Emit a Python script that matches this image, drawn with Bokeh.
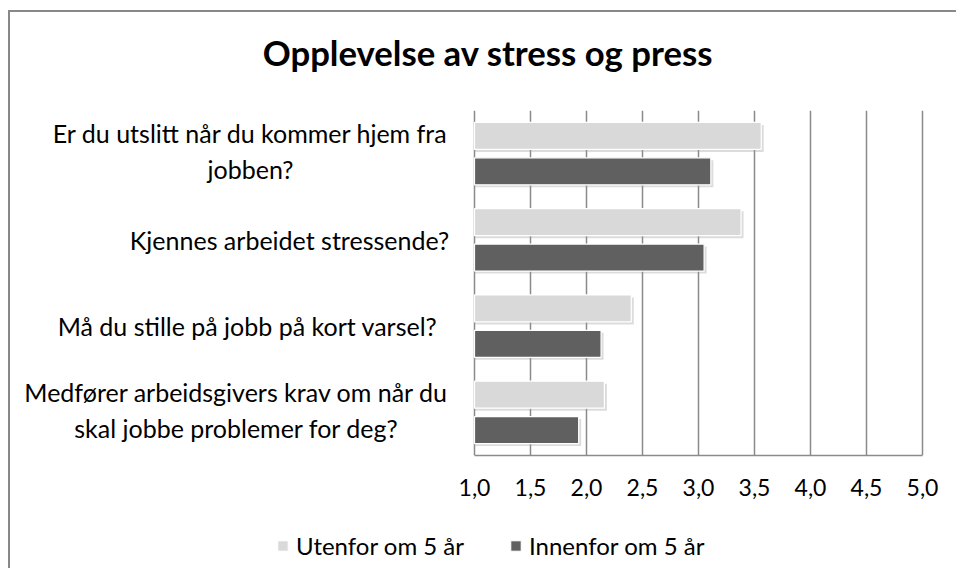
from bokeh.plotting import figure
from bokeh.layouts import column
from bokeh.models import (Range1d, Label, Legend, LegendItem, FixedTicker,
                          ColumnDataSource)
from bokeh.transform import dodge
from bokeh.embed import file_html
from bokeh.resources import INLINE

# ---------------- data ----------------
chart_title = "Opplevelse av stress og press"
categories = [
    "Er du utslitt når du kommer hjem fra\njobben?",
    "Kjennes arbeidet stressende?",
    "Må du stille på jobb på kort varsel?",
    "Medfører arbeidsgivers krav om når du\nskal jobbe problemer for deg?",
]
series_names = ["Utenfor om 5 år", "Innenfor om 5 år"]
utenfor = [3.56, 3.38, 2.40, 2.16]
innenfor = [3.11, 3.05, 2.13, 1.93]
x_ticks = [1.0, 1.5, 2.0, 2.5, 3.0, 3.5, 4.0, 4.5, 5.0]
x_tick_labels = ["1,0", "1,5", "2,0", "2,5", "3,0", "3,5", "4,0", "4,5", "5,0"]

# ---------------- style / layout ----------------
FONT = "Lato"
LIGHT = "#d9d9d9"
DARK = "#606060"
GRID = "#8a8a8a"

OX, OY = 10, 12                 # page position of the canvases
W = 940
PLOT_L, PLOT_R = 474, 922       # page x of value 1.0 and 5.0
FRAME_L, FRAME_R = 22, OX + W   # page x of the main frame
FRAME_T, FRAME_B = 110, 455     # page y of the main frame
TITLE_H = 80                    # height of the title strip
AXIS_H = 55                     # space under the frame for tick labels
LEG_H = 58                      # height of the legend strip

XMIN, XMAX = x_ticks[0], x_ticks[-1]
px_x = (PLOT_R - PLOT_L) / (XMAX - XMIN)
x_start = XMIN - (PLOT_L - FRAME_L) / px_x
x_end = XMAX + (FRAME_R - PLOT_R) / px_x

n = len(categories)
YMIN, YMAX = -0.5, n - 0.5


def dx(page_x):
    return XMIN + (page_x - PLOT_L) / px_x


def strip(h):
    f = figure(width=W, height=h, x_range=Range1d(0, W),
               y_range=Range1d(h, 0), output_backend="svg",
               toolbar_location=None, min_border=0)
    f.axis.visible = False
    f.grid.visible = False
    f.outline_line_color = None
    f.background_fill_color = "white"
    f.border_fill_color = "white"
    return f


# ---------------- title strip ----------------
pt = strip(TITLE_H)
pt.add_layout(Label(x=481.5 - OX, y=52 - OY, text=chart_title,
                    text_font=FONT, text_font_style="bold",
                    text_font_size="34.7px", text_align="center",
                    text_baseline="middle", text_color="black"))

# ---------------- main plot ----------------
top_main = OY + TITLE_H
p_height = (FRAME_T - top_main) + (FRAME_B - FRAME_T) + AXIS_H
pos = [n - 1 - i for i in range(n)]
src = ColumnDataSource(dict(pos=pos, utenfor=utenfor, innenfor=innenfor,
                            base=[XMIN] * n))

p = figure(width=W, height=p_height, x_range=Range1d(x_start, x_end),
           y_range=Range1d(YMIN, YMAX), output_backend="svg",
           toolbar_location=None,
           min_border_left=FRAME_L - OX, min_border_right=OX + W - FRAME_R,
           min_border_top=FRAME_T - top_main, min_border_bottom=AXIS_H)
p.outline_line_color = None
p.background_fill_color = "white"
p.border_fill_color = "white"

px_y = (FRAME_B - FRAME_T) / (YMAX - YMIN)
off = 17.7 / px_y
bh = 27 / px_y
sx = 2.5 / px_x
sy = 2.5 / px_y

# shadows
p.hbar(y=dodge("pos", off - sy, range=p.y_range), left="base",
       right=dodge("utenfor", sx, range=p.x_range), height=bh, source=src,
       fill_color="#9a9a9a", fill_alpha=0.35, line_color=None)
p.hbar(y=dodge("pos", -off - sy, range=p.y_range), left="base",
       right=dodge("innenfor", sx, range=p.x_range), height=bh, source=src,
       fill_color="#9a9a9a", fill_alpha=0.35, line_color=None)

p.hbar(y=dodge("pos", off, range=p.y_range), left="base", right="utenfor",
       height=bh, source=src, fill_color=LIGHT, line_color="white",
       line_width=1.2)
p.hbar(y=dodge("pos", -off, range=p.y_range), left="base", right="innenfor",
       height=bh, source=src, fill_color=DARK, line_color="white",
       line_width=1.2)

p.yaxis.visible = False
p.ygrid.visible = False
p.xgrid.ticker = FixedTicker(ticks=x_ticks)
p.xgrid.grid_line_color = GRID
p.xgrid.grid_line_width = 1.5
xa = p.xaxis[0]
xa.bounds = (XMIN, XMAX)
xa.ticker = FixedTicker(ticks=x_ticks)
xa.major_label_overrides = {t: l for t, l in zip(x_ticks, x_tick_labels)}
xa.axis_line_color = GRID
xa.axis_line_width = 1.5
xa.major_tick_line_color = None
xa.minor_tick_line_color = None
xa.major_tick_out = 0
xa.major_tick_in = 0
xa.major_label_standoff = 23
xa.major_label_text_font = FONT
xa.major_label_text_font_size = "23px"
xa.major_label_text_color = "black"

label_cx = [250, 289, 247, 236]
label_dy = [2.5, 0, 0, 2.5]      # small upward nudge (px) for two-line labels
for c, yy, cx, ny in zip(categories, pos, label_cx, label_dy):
    p.add_layout(Label(x=dx(cx), y=yy + ny / px_y, text=c, text_font=FONT,
                       text_font_size="25px", text_align="center",
                       text_baseline="middle", text_color="black",
                       text_line_height=1.2))

# ---------------- legend strip ----------------
pl = strip(LEG_H)
nan = float("nan")
swatch = ColumnDataSource(dict(y=[nan], right=[nan]))
g1 = pl.hbar(y="y", right="right", height=1, source=swatch,
             fill_color=LIGHT, line_color="white")
g2 = pl.hbar(y="y", right="right", height=1, source=swatch,
             fill_color=DARK, line_color="white")
leg_top = OY + TITLE_H + p_height
item_h = 29
legend = Legend(items=[LegendItem(label=series_names[0], renderers=[g1]),
                       LegendItem(label=series_names[1], renderers=[g2])],
                orientation="horizontal",
                location=(264 - OX, int(leg_top + LEG_H - 545 - item_h / 2)),
                padding=0, margin=0, spacing=45, label_standoff=7,
                glyph_width=13, glyph_height=13,
                border_line_color=None, background_fill_alpha=0,
                label_text_font=FONT, label_text_font_size="24px",
                label_text_color="black")
pl.add_layout(legend, "center")

layout = column(pt, p, pl, spacing=0)
layout.styles = {"border-left": "2px solid #888888",
                 "border-top": "2px solid #888888",
                 "margin-left": "8px", "margin-top": "10px",
                 "padding-right": "6px"}

open("out.html", "w").write(file_html(layout, INLINE))
